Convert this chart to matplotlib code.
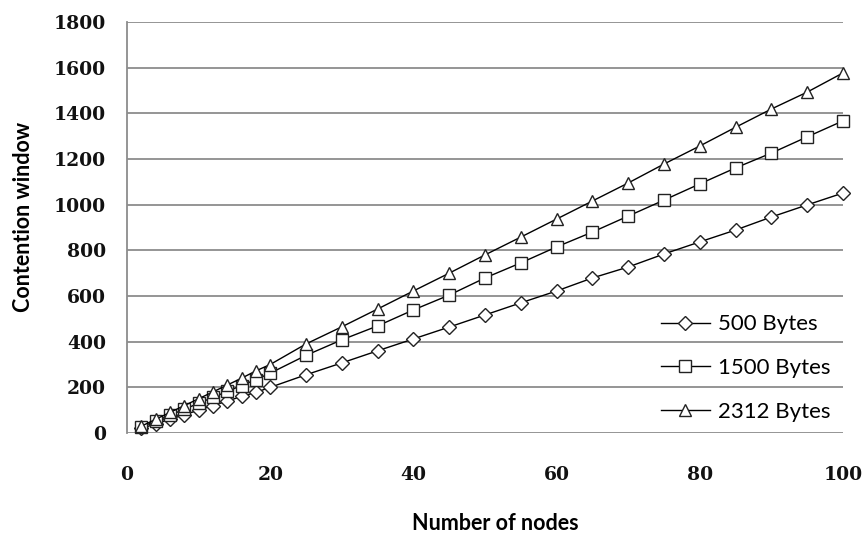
'''Contention window vs number of nodes for three frame sizes.'''
import matplotlib.pyplot as plt

nodes = [2, 4, 6, 8, 10, 12, 14, 16, 18, 20,
         25, 30, 35, 40, 45, 50, 55, 60, 65, 70, 75, 80, 85, 90, 95, 100]

cw_500 = [20, 40, 60, 80, 100, 120, 140, 160, 178, 200,
          255, 307, 360, 412, 464, 517, 570, 622, 679, 727, 784, 837, 889, 946, 999, 1051]
cw_1500 = [26, 52, 78, 104, 130, 156, 182, 208, 234, 262,
           340, 408, 469, 539, 604, 679, 745, 815, 880, 950, 1020, 1091, 1161, 1226, 1297, 1367]
cw_2312 = [30, 60, 90, 120, 150, 180, 210, 240, 272, 300,
           390, 465, 543, 622, 700, 780, 858, 937, 1016, 1095, 1178, 1257, 1339, 1419, 1493, 1577]

labels = ['500 Bytes', '1500 Bytes', '2312 Bytes']
yticks = [0, 200, 400, 600, 800, 1000, 1200, 1400, 1600, 1800]
xticks = [0, 20, 40, 60, 80, 100]

fig = plt.figure(figsize=(8.63, 5.35), dpi=100)
ax = fig.add_axes([127 / 863, 1 - 433 / 535, 716 / 863, 411 / 535])

grid_color = '#8c8c8c'
for y in yticks:
    ax.axhline(y, color=grid_color, lw=1.3, zorder=1)

# open markers, thin black lines, not clipped at the plot edge
style = dict(color='black', lw=1.0, mfc='white', mec='#222222', mew=1.0,
             zorder=3, clip_on=False)
ax.plot(nodes, cw_500, marker='D', ms=7, label=labels[0], **style)
ax.plot(nodes, cw_1500, marker='s', ms=9, label=labels[1], **style)
ax.plot(nodes, cw_2312, marker='^', ms=9, label=labels[2], **style)

ax.set_xlim(0, 100)
ax.set_ylim(0, 1800)
ax.set_xticks(xticks)
ax.set_yticks(yticks)
ax.tick_params(length=0)
ax.tick_params(axis='y', pad=15)
ax.tick_params(axis='x', pad=24)
for t in ax.get_xticklabels() + ax.get_yticklabels():
    t.set_family('DejaVu Serif')
    t.set_fontweight('bold')
    t.set_fontsize(13.5)
    t.set_color('#111111')

for s in ['top', 'right', 'bottom']:
    ax.spines[s].set_visible(False)
ax.spines['left'].set_color(grid_color)
ax.spines['left'].set_linewidth(1.3)

ax.set_xlabel('Number of nodes', family='Lato', fontweight='bold', fontsize=15.5, va='center')
ax.xaxis.set_label_coords(0.515, (433 - 524) / 411)
ax.set_ylabel('Contention window', family='Lato', fontweight='bold', fontsize=15.5, va='center')
ax.yaxis.set_label_coords((24 - 127) / 716, (433 - 217) / 411)

leg = ax.legend(loc='lower right', bbox_to_anchor=(1.01, -0.022), frameon=False,
                prop={'family': 'Lato', 'size': 16}, handlelength=2.2,
                handletextpad=0.35, labelspacing=1.07)

fig.savefig('out.png', dpi=100)
